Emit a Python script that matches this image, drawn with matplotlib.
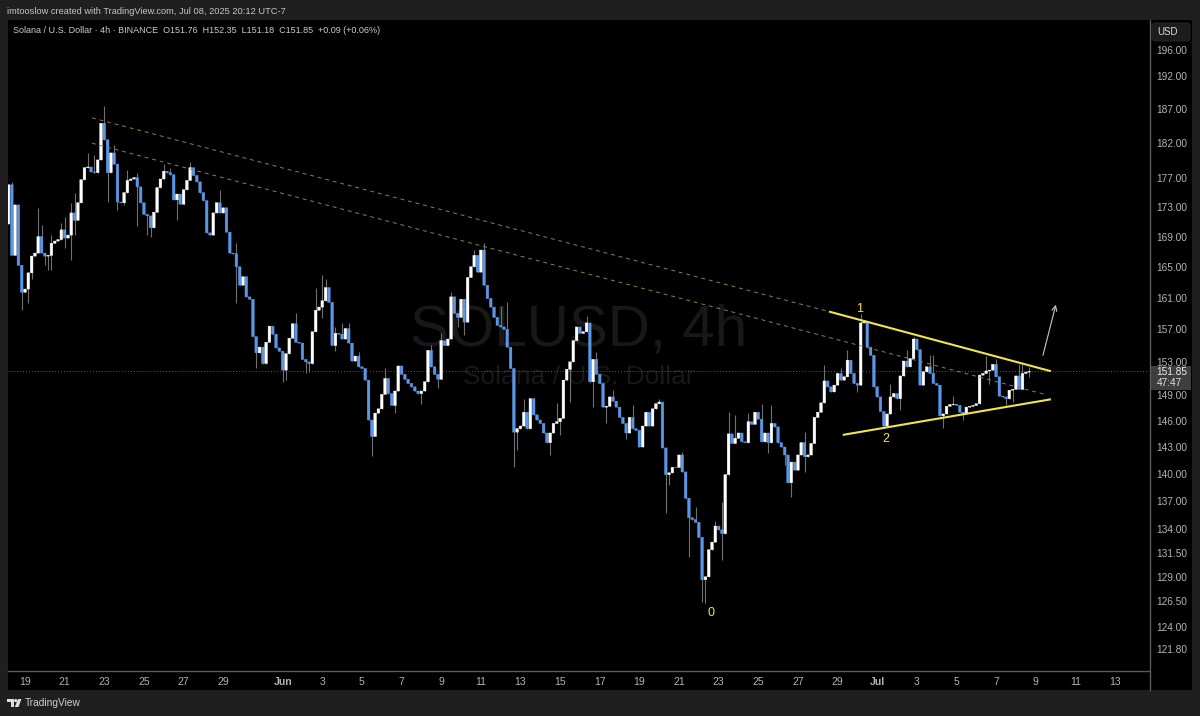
import matplotlib
matplotlib.use('Agg')
import matplotlib.pyplot as plt
from matplotlib.patches import Rectangle, FancyBboxPatch, Polygon, Circle

# SOL/USD 4h closes, one per bar. open = previous close
first_open = 170.7
closes = [
    176.1, 166.5, 173.3, 165.2, 161.7, 162.1, 164.2, 166.4, 166.8, 169.0,
    166.8, 166.4, 166.5, 168.1, 168.4, 168.6, 169.9, 168.8, 169.2, 172.2, 171.2,
    173.6, 176.8, 178.5, 178.6, 177.9, 177.8, 179.6, 184.9, 182.5, 177.8,
    180.6, 179.0, 173.7, 173.6, 175.0, 176.7, 176.9, 177.1, 175.8, 173.6,
    172.0, 171.8, 170.2, 172.3, 175.7, 176.9, 178.0, 177.8, 177.5, 174.0,
    174.8, 173.4, 175.4, 176.7, 178.5, 177.4, 176.5, 175.0, 173.9, 169.5,
    169.2, 172.2, 173.6, 172.2, 172.9, 169.6, 166.8,
    166.7, 165.0, 162.6, 163.7, 161.1, 160.8, 156.1, 154.1, 154.8, 152.8,
    155.4, 157.4, 156.4, 154.7, 154.3, 152.0, 154.0, 155.9, 157.7, 155.4,
    155.3, 153.3, 153.0, 152.8, 156.7, 159.4, 159.8, 160.6, 162.3, 160.4,
    155.0, 156.5, 156.4, 155.8, 157.1, 155.3, 153.1, 153.7, 152.4, 152.2,
    150.8, 146.1, 144.2, 146.9, 147.4, 149.1, 151.0, 149.2, 147.8, 149.5,
    152.5, 151.5, 150.9, 150.4, 150.0, 149.5, 149.2, 149.5, 150.6, 154.4,
    152.4, 151.5, 150.9, 155.6, 155.0, 155.8, 161.1, 159.0, 158.5, 160.8,
    157.9, 163.6, 165.0, 166.5, 164.3, 167.2, 162.6, 160.9, 159.8, 158.5, 157.5,
    157.3, 157.0, 154.8, 152.2, 144.7, 145.1, 145.4, 147.0, 145.1, 148.6,
    146.7, 146.1, 145.7, 144.6, 143.5, 144.6, 145.7, 145.9, 146.3, 150.8,
    152.1, 153.0, 155.6, 157.3, 156.5, 156.7, 157.8, 150.6, 153.3, 151.5,
    150.4, 147.6, 147.7, 148.8, 148.3, 147.6, 146.4, 145.7, 144.6, 146.4,
    145.1, 144.9, 143.0, 145.4, 147.0, 145.4, 147.4, 148.0, 148.2, 142.9,
    139.9, 140.1, 140.7, 140.7, 142.1, 140.2, 137.3, 135.2, 135.0, 134.7,
    133.1, 128.7, 129.0, 131.8, 132.6, 134.3, 133.9, 133.5, 139.9, 144.5,
    143.4, 144.0, 144.6, 143.6, 143.5, 145.9, 145.6, 147.0, 146.2, 143.6,
    144.6, 143.5, 145.7,
    145.3, 143.5, 143.0, 142.1, 139.0, 141.3, 140.4, 142.1, 143.5, 141.9,
    142.1, 143.4, 146.4, 147.0, 148.1, 150.7, 150.0, 149.4, 150.2, 151.6,
    150.8, 151.2, 153.2, 151.6, 150.4, 150.2, 157.8, 157.9, 154.8, 153.8,
    150.0, 148.8, 147.1, 145.4, 146.8, 148.8, 149.2, 148.6, 151.3, 153.1,
    152.4, 153.4, 155.8, 154.5, 150.2, 151.8, 152.4, 151.6, 150.4, 150.2,
    146.6, 146.8, 147.7, 147.9, 147.95, 147.8, 147.0, 146.8, 147.6, 147.7,
    147.8, 148.0, 151.4, 151.6, 151.9, 152.0, 152.7, 151.2, 148.9, 148.8,
    148.6, 149.6, 149.7, 151.3, 149.7, 151.6, 151.76, 151.85,
]

# bars whose wicks stick out visibly, bar number -> price
wick_highs = {
    1: 176.5, 9: 172.9, 10: 170.5, 13: 169.2, 16: 170.8, 17: 171.6, 19: 173.6, 20: 175.0,
    24: 180.6, 26: 180.3, 29: 187.4, 32: 181.7, 36: 178.2, 39: 177.8, 47: 179.0, 49: 178.5,
    55: 179.3, 64: 175.3, 69: 168.2, 87: 159.0, 93: 162.3, 95: 163.9, 96: 163.4, 99: 157.3,
    101: 157.8, 103: 157.8, 106: 154.2, 114: 152.2, 128: 155.0, 131: 156.5, 134: 161.7,
    141: 167.2, 144: 168.1, 149: 159.9, 151: 160.4, 156: 148.6, 166: 148.1, 175: 158.7,
    178: 154.2, 183: 149.6, 189: 147.9, 197: 148.6, 204: 142.4, 208: 136.3, 214: 134.8,
    216: 136.9, 218: 147.0, 220: 146.7, 224: 146.9, 228: 148.0, 231: 147.9, 241: 144.7,
    247: 152.6, 252: 152.2, 254: 154.5, 258: 158.9, 267: 150.3, 272: 154.4, 274: 156.1,
    279: 153.8, 280: 153.8, 286: 148.9, 296: 153.7, 299: 153.4, 306: 152.7, 307: 152.7,
    309: 152.35,
}
wick_lows = {
    4: 159.4, 6: 160.3, 7: 163.4, 11: 165.2, 12: 164.6, 13: 164.6, 17: 167.5, 19: 165.9,
    20: 169.2, 30: 173.7, 33: 172.6, 35: 173.3, 39: 170.4, 42: 169.2, 43: 169.0, 51: 171.3,
    54: 175.4, 69: 160.3, 75: 152.2, 83: 150.6, 84: 150.8, 90: 151.6, 91: 151.8, 95: 158.4,
    99: 154.3, 110: 142.0, 117: 146.9, 125: 148.0, 130: 149.8, 136: 157.3, 138: 156.3,
    153: 140.7, 154: 142.7, 164: 142.1, 167: 144.4, 170: 148.2, 177: 147.6, 181: 145.7,
    187: 143.9, 199: 135.7, 200: 138.7, 206: 131.0, 210: 126.4, 211: 126.3, 216: 130.7,
    230: 142.3, 235: 141.0, 237: 137.4, 241: 140.2, 257: 149.4, 265: 145.2, 270: 147.3,
    283: 145.2, 289: 146.1, 297: 150.3, 302: 147.8, 304: 148.2, 307: 149.7, 309: 151.18,
}

price_ticks = [196, 192, 187, 182, 177, 173, 169, 165, 161, 157, 153, 149, 146, 143, 140,
               137, 134, 131.5, 129, 126.5, 124, 121.8]
# bar number of each date label, first bar is May 18 04:00
date_ticks = [5, 17, 29, 41, 53, 65, 83, 95, 107, 119, 131, 143, 155, 167, 179, 191, 203, 215,
              227, 239, 251, 263, 275, 287, 299, 311, 323, 335]
date_labels = ['19', '21', '23', '25', '27', '29', 'Jun', '3', '5', '7', '9', '11', '13', '15',
               '17', '19', '21', '23', '25', '27', '29', 'Jul', '3', '5', '7', '9', '11', '13']

last_price = 151.85
countdown = '47:47'

# drawn lines as (bar, price) ends
upper_line = [(248.7, 159.2), (315.3, 151.9)]
lower_line = [(252.9, 144.4), (315.3, 148.5)]
dash_top = [(25.3, 185.7), (248.7, 159.2)]
dash_mid = [(25.3, 182.0), (313.8, 149.1)]
arrow_line = [(313.2, 153.8), (317.1, 160.1)]
wave_labels = [('0', 212.7, 125.3), ('1', 257.8, 159.6), ('2', 265.6, 143.9)]

W, H = 1200, 716
GREY = '#1f1f1f'
BLUE = '#5a97e8'
YELLOW = '#f3e44c'
AXIS_TEXT = '#b4b4b4'
plt.rcParams['font.family'] = ['Liberation Sans', 'DejaVu Sans']

fig = plt.figure(figsize=(W / 100, H / 100), dpi=100, facecolor=GREY)

# full size pixel axes for the frame around the chart
bg = fig.add_axes([0, 0, 1, 1], zorder=0)
bg.set_xlim(0, W)
bg.set_ylim(H, 0)
bg.axis('off')
bg.add_patch(Rectangle((8, 20), 1184, 670, color='black', lw=0))
bg.plot([8, 1149], [670.5, 670.5], color='#5a5a5a', lw=1)
bg.plot([1149.5, 1149.5], [20, 690], color='#5a5a5a', lw=1)
bg.text(7, 11, 'imtooslow created with TradingView.com, Jul 08, 2025 20:12 UTC-7',
        color='#c4c4c4', fontsize=6.7, va='center')
bg.add_patch(FancyBboxPatch((1152, 23), 38, 18, boxstyle='round,pad=0,rounding_size=3',
                            fc='#1c1c1c', ec='#2a2a2a', lw=0.6))
bg.text(1167.5, 32, 'USD', color='#dddddd', fontsize=7, ha='center', va='center')

# last price tag
bg.add_patch(Rectangle((1150, 366), 41, 24, color='#3e3e3e', lw=0))
bg.text(1156.5, 372, '%.2f' % last_price, color='#eeeeee', fontsize=7.3, va='center')
bg.text(1156.5, 382.5, countdown, color='#dddddd', fontsize=7.3, va='center')

# TradingView logo
bg.add_patch(Polygon([(7, 699), (14, 699), (14, 707), (10.5, 707), (10.5, 702), (7, 702)],
                     color='#dddddd', lw=0))
bg.add_patch(Circle((15.7, 700.6), 1.6, color='#dddddd', lw=0))
bg.add_patch(Polygon([(18, 699), (21.5, 699), (18.5, 707), (14.8, 707)], color='#dddddd', lw=0))
bg.text(25, 703.5, 'TradingView', color='#cfcfcf', fontsize=7.3, va='center')

ax = fig.add_axes([8 / W, 1 - 670 / H, 1141 / W, 650 / H], zorder=1)
ax.set_facecolor('black')
ax.set_yscale('log')
ax.set_xlim(-0.15, 345.3)
ax.set_ylim(119.8, 200.7)
for side in ax.spines:
    ax.spines[side].set_visible(False)

ax.minorticks_off()
ax.yaxis.tick_right()
ax.set_yticks(price_ticks, ['%.2f' % p for p in price_ticks])
ax.set_xticks(date_ticks, date_labels)
ax.tick_params(axis='y', length=0, pad=5, labelsize=7.3, labelcolor=AXIS_TEXT)
ax.tick_params(axis='x', length=0, pad=5, labelsize=7.5, labelcolor=AXIS_TEXT)
for label in ax.get_xticklabels():
    if label.get_text() in ('Jun', 'Jul'):
        label.set_fontweight('bold')

# watermark
ax.text(0.5, 0.523, 'SOLUSD, 4h', transform=ax.transAxes, color='#181818', fontsize=42,
        ha='center', va='center', zorder=0)
ax.text(0.5, 0.451, 'Solana / U.S. Dollar', transform=ax.transAxes, color='#181818', fontsize=19,
        ha='center', va='center', zorder=0)

# legend line goes over the chart, drawn on the chart axes so it stays on top
ax.text(5 / 1141, 1 - 10.5 / 650,
        'Solana / U.S. Dollar \u00b7 4h \u00b7 BINANCE  O151.76  H152.35  L151.18  C151.85  +0.09 (+0.06%)',
        transform=ax.transAxes, color='#cccccc', fontsize=6.45, va='center')

ax.axhline(last_price, color='#5c5c5c', lw=0.7, ls=(0, (1, 2)), zorder=1)

# candles
opens = [first_open] + closes[:-1]
bars = list(range(len(closes)))
highs = [max(o, c, wick_highs.get(i, 0)) for i, o, c in zip(bars, opens, closes)]
lows = [min(o, c, wick_lows.get(i, 1e9)) for i, o, c in zip(bars, opens, closes)]
ax.vlines(bars, lows, highs, color='#707070', lw=0.8, zorder=2)
up = [i for i in bars if closes[i] >= opens[i]]
down = [i for i in bars if closes[i] < opens[i]]
for idx, colour in ((down, BLUE), (up, 'white')):
    ax.bar(idx, [abs(closes[i] - opens[i]) for i in idx],
           bottom=[min(opens[i], closes[i]) for i in idx],
           width=0.8, color=colour, edgecolor=colour, lw=0.3, zorder=3, snap=False)

# drawings
for line in (dash_top, dash_mid):
    ax.plot(*zip(*line), color='#8d8250', lw=0.7, ls=(0, (4, 4)), zorder=4)
for line in (upper_line, lower_line):
    ax.plot(*zip(*line), color=YELLOW, lw=1.5, zorder=5)
ax.annotate('', xy=arrow_line[1], xytext=arrow_line[0], zorder=5,
            arrowprops=dict(arrowstyle='->', color='#c8c8c8', lw=0.8, shrinkA=0, shrinkB=0,
                            mutation_scale=9))
for text, bar, price in wave_labels:
    ax.text(bar, price, text, color=YELLOW, fontsize=9, ha='center', va='center', zorder=6)

fig.savefig('out.png', dpi=100, facecolor=GREY)
